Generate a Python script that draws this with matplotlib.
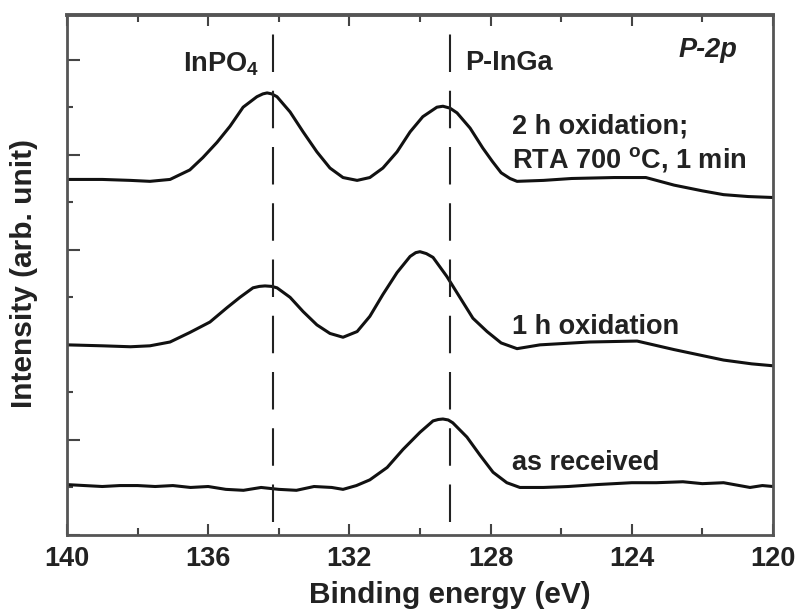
import numpy as np
import matplotlib
matplotlib.use("Agg")
import matplotlib.pyplot as plt
from matplotlib.ticker import MultipleLocator, NullFormatter

plt.rcParams['font.family'] = ['Liberation Sans', 'DejaVu Sans']
plt.rcParams['font.weight'] = 'bold'
plt.rcParams['mathtext.fontset'] = 'custom'
plt.rcParams['mathtext.rm'] = 'Liberation Sans:bold'
plt.rcParams['mathtext.it'] = 'Liberation Sans:italic:bold'
plt.rcParams['mathtext.bf'] = 'Liberation Sans:bold'

# Spectra (binding energy in eV, intensity in arb. units, offset)
x_rta = [140, 139, 138.2, 137.65, 137.08, 136.52, 136.15, 135.75, 135.38, 135.01, 134.62,
         134.45, 134.33, 134.2, 134.05, 133.68, 133.31, 132.92, 132.55, 132.18, 131.78,
         131.42, 131.05, 130.65, 130.28, 129.92, 129.52, 129.35, 129.15, 128.95, 128.58,
         128.22, 127.95, 127.7, 127.45, 127.25, 126.5, 125.7, 124.5, 123.6, 122.8, 122.0,
         121.4, 120.7, 120]
y_rta = [3.74, 3.74, 3.73, 3.72, 3.74, 3.84, 3.97, 4.13, 4.30, 4.50, 4.61,
         4.64, 4.65, 4.64, 4.61, 4.45, 4.24, 4.03, 3.86, 3.76, 3.73,
         3.76, 3.86, 4.03, 4.24, 4.40, 4.50, 4.51, 4.49, 4.44, 4.28,
         4.07, 3.93, 3.81, 3.75, 3.72, 3.73, 3.75, 3.76, 3.76, 3.68, 3.62,
         3.58, 3.56, 3.55]

x_1h = [140, 139, 138.2, 137.65, 137.08, 136.52, 135.95, 135.47, 135.1, 134.73, 134.55,
        134.39, 134.2, 134.05, 133.68, 133.31, 132.92, 132.55, 132.18, 131.78, 131.42,
        131.05, 130.65, 130.28, 130.12, 130.0, 129.82, 129.63, 129.24, 128.87, 128.5,
        128.1, 127.7, 127.25, 126.6, 125.2, 123.85, 122.8, 121.4, 120.6, 120]
y_1h = [2.00, 1.99, 1.98, 1.99, 2.03, 2.13, 2.24, 2.39, 2.50, 2.60, 2.615,
        2.62, 2.615, 2.60, 2.50, 2.35, 2.21, 2.12, 2.08, 2.14, 2.30,
        2.53, 2.76, 2.93, 2.97, 2.98, 2.96, 2.92, 2.72, 2.50, 2.28,
        2.14, 2.02, 1.96, 2.00, 2.03, 2.04, 1.95, 1.84, 1.80, 1.78]

x_asrec = [140, 139.5, 139, 138.5, 138, 137.5, 137, 136.5, 136, 135.5, 135, 134.5, 134,
           133.5, 133, 132.5, 132.18, 131.8, 131.42, 130.93, 130.48, 130.0, 129.63, 129.48,
           129.35, 129.2, 129.07, 128.67, 128.3, 127.93, 127.54, 127.17, 126.5, 125.8, 125,
           124, 123.3, 122.55, 122, 121.4, 120.65, 120.3, 120]
y_asrec = [0.53, 0.52, 0.51, 0.52, 0.52, 0.51, 0.52, 0.50, 0.51, 0.48, 0.47, 0.50, 0.48,
           0.47, 0.51, 0.50, 0.48, 0.52, 0.58, 0.71, 0.90, 1.08, 1.20, 1.215,
           1.22, 1.21, 1.18, 1.03, 0.84, 0.66, 0.55, 0.50, 0.50, 0.51, 0.53,
           0.55, 0.55, 0.56, 0.54, 0.55, 0.50, 0.52, 0.51]

ref_lines = [134.15, 129.15]   # InPO4 and P-InGa positions

fig = plt.figure(figsize=(8.04, 6.11), dpi=100)
ax = fig.add_axes([0.0833, 0.1244, 0.8781, 0.8511])

for xs, ys in [(x_rta, y_rta), (x_1h, y_1h), (x_asrec, y_asrec)]:
    ax.plot(xs, ys, color='#111111', linewidth=2.2, solid_joinstyle='round',
            solid_capstyle='round')

for xv in ref_lines:
    ax.plot([xv, xv], [0.14, 5.42], color='#222222', linewidth=1.5, dashes=(18, 9))

ax.set_xlim(140, 120)
ax.set_ylim(0, 5.47)
ax.xaxis.set_major_locator(MultipleLocator(4))
ax.xaxis.set_minor_locator(MultipleLocator(2))
ax.yaxis.set_major_locator(MultipleLocator(1))
ax.yaxis.set_minor_locator(MultipleLocator(0.5))
ax.yaxis.set_major_formatter(NullFormatter())
ax.tick_params(axis='x', which='both', direction='in', top=True, labelsize=19.5,
               labelcolor='#222222', pad=8, color='#444444')
ax.tick_params(axis='x', which='major', length=8, width=1.5)
ax.tick_params(axis='x', which='minor', length=5, width=1.5)
ax.tick_params(axis='y', which='both', direction='in', right=False, color='#444444')
ax.tick_params(axis='y', which='major', length=9, width=1.5)
ax.tick_params(axis='y', which='minor', length=4, width=1.5)
for s in ax.spines.values():
    s.set_color('#555555')
    s.set_linewidth(2)
ax.spines['top'].set_linewidth(2.8)

ax.set_xlabel('Binding energy (eV)', fontsize=21.5, fontweight='bold', color='#222222')
ax.set_ylabel('Intensity (arb. unit)', fontsize=21.5, fontweight='bold', color='#222222')
ax.xaxis.set_label_coords(0.5425, -0.088)
ax.yaxis.set_label_coords(-0.041, 0.502)

tc = '#222222'
fs = 19.5
ax.text(136.71, 4.95, 'InPO$_4$', fontsize=fs, color=tc, va='center', ha='left')
ax.text(128.73, 4.97, 'P-InGa', fontsize=fs, color=tc, va='center', ha='left')
ax.text(121.02, 5.10, 'P-2p', fontsize=fs, color=tc, va='center', ha='right', style='italic')
ax.text(127.39, 4.30, '2 h oxidation;', fontsize=fs, color=tc, va='center', ha='left')
ax.text(127.39, 3.95, 'RTA 700 $^{\\mathrm{o}}$C, 1 min', fontsize=fs, color=tc, va='center', ha='left')
ax.text(127.39, 2.19, '1 h oxidation', fontsize=fs, color=tc, va='center', ha='left')
ax.text(127.39, 0.76, 'as received', fontsize=fs, color=tc, va='center', ha='left')

fig.savefig('out.png', dpi=100)
